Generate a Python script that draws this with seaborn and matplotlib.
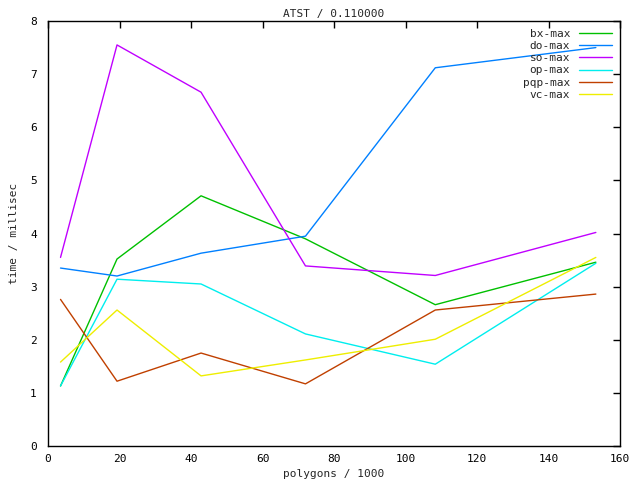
import pandas as pd
import matplotlib

matplotlib.use('Agg')
import matplotlib.pyplot as plt
import seaborn as sns

polygons = [3.5, 19.3, 42.8, 72, 108.3, 153.2]

bx_max = [1.13, 3.52, 4.71, 3.9, 2.66, 3.46]
do_max = [3.35, 3.2, 3.63, 3.95, 7.12, 7.5]
so_max = [3.55, 7.55, 6.66, 3.39, 3.21, 4.02]
op_max = [1.13, 3.14, 3.05, 2.11, 1.54, 3.44]
pqp_max = [2.76, 1.22, 1.75, 1.17, 2.56, 2.86]
vc_max = [1.58, 2.56, 1.32, 1.62, 2.01, 3.55]

series = ['bx-max', 'do-max', 'so-max', 'op-max', 'pqp-max', 'vc-max']
colors = ['#00c000', '#0080ff', '#c000ff', '#00eeee', '#c04000', '#eeee00']

rows = []
for name, vals in zip(series, [bx_max, do_max, so_max, op_max, pqp_max, vc_max]):
    for x, y in zip(polygons, vals):
        rows.append({'polygons': x, 'time': y, 'series': name})
df = pd.DataFrame(rows)

sns.set_style('white')
plt.rcParams['font.family'] = ['DejaVu Sans Mono']
plt.rcParams['font.size'] = 8

fig = plt.figure(figsize=(6.4, 4.8), dpi=100)
ax = fig.add_axes([0.075, 0.0708, 0.894, 0.8854])

sns.lineplot(data=df, x='polygons', y='time', hue='series', hue_order=series,
             palette=colors, linewidth=1, ax=ax, sort=False)

ax.set_xlim(0, 160)
ax.set_ylim(0, 8)
ax.set_xticks(range(0, 161, 20))
ax.set_yticks(range(0, 9))
ax.tick_params(direction='in', top=True, right=True, length=5, width=1,
               labelsize=8, colors='black')
ax.tick_params(axis='x', pad=6)
ax.tick_params(axis='y', pad=8)
for sp in ax.spines.values():
    sp.set_color('black')
    sp.set_linewidth(1)

ax.set_title('ATST / 0.110000', fontsize=8, pad=3)
ax.set_xlabel('polygons / 1000', fontsize=8, labelpad=3)
ax.set_ylabel('time / millisec', fontsize=8, labelpad=8)

leg = ax.legend(loc='upper right', frameon=False, markerfirst=False,
                fontsize=8, handlelength=3, labelspacing=0.2,
                borderaxespad=0.3, title=None)

fig.savefig('out.png', dpi=100)
